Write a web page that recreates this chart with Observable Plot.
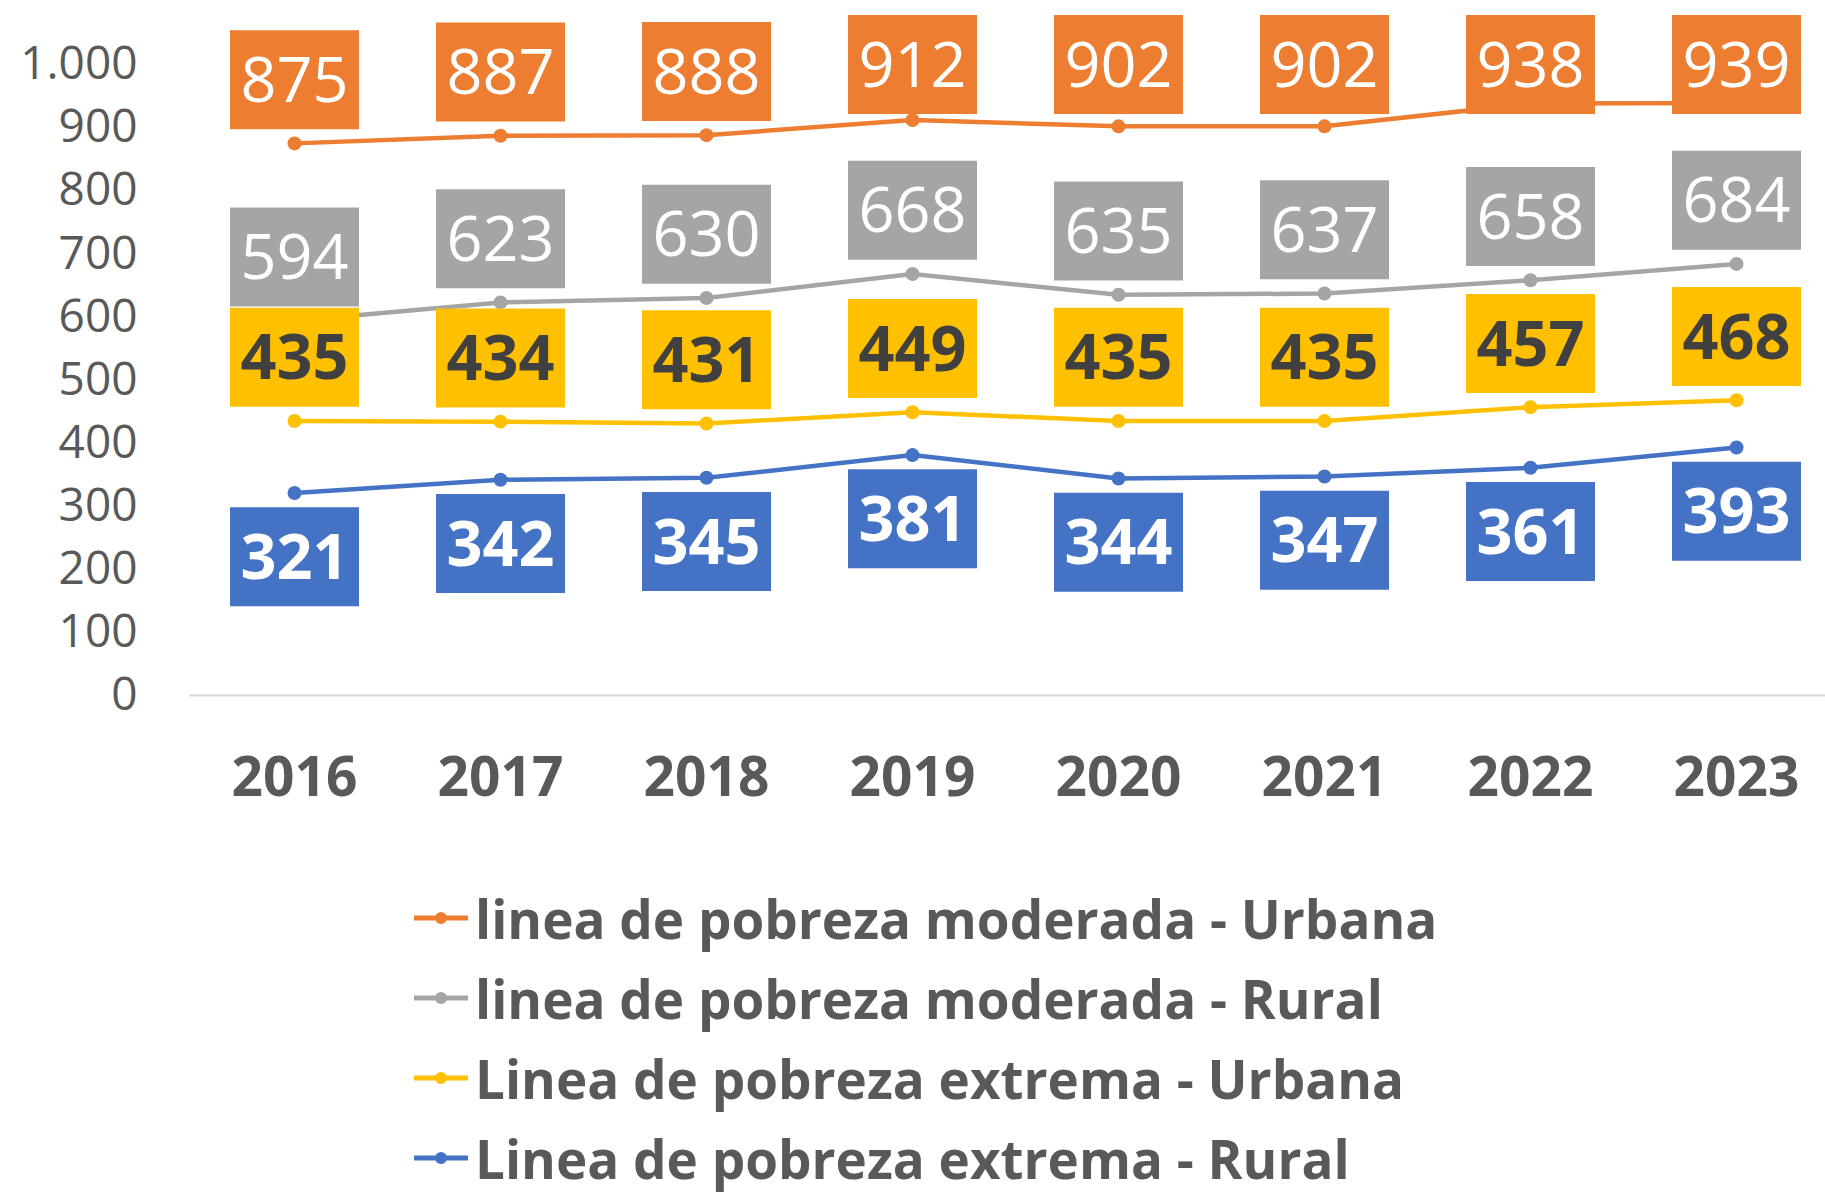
<!DOCTYPE html>
<html><head><meta charset="utf-8">
<script src="https://cdn.jsdelivr.net/npm/d3@7"></script>
<script src="https://cdn.jsdelivr.net/npm/@observablehq/plot@0.6"></script>
<style>
html,body{margin:0;padding:0;background:#fff;overflow:hidden;}
body{width:1825px;height:1197px;font-family:"Open Sans",sans-serif;}
#legend{padding-left:414px;}
.row{display:flex;align-items:center;height:80px;font-weight:700;font-size:53px;color:#595959;white-space:nowrap;}
.row svg{margin-right:7px;flex:none;}
</style></head><body><div id="chart"></div><div id="legend"></div>
<script>
const years = ["2016","2017","2018","2019","2020","2021","2022","2023"];
const seriesNames = [
  "linea de pobreza moderada - Urbana",
  "linea de pobreza moderada - Rural",
  "Linea de pobreza extrema - Urbana",
  "Linea de pobreza extrema - Rural"
];
const moderadaUrbana = [875, 887, 888, 912, 902, 902, 938, 939];
const moderadaRural  = [594, 623, 630, 668, 635, 637, 658, 684];
const extremaUrbana  = [435, 434, 431, 449, 435, 435, 457, 468];
const extremaRural   = [321, 342, 345, 381, 344, 347, 361, 393];
const colors = ["#ED7D31", "#A5A5A5", "#FFC000", "#4472C4"];
const yTicks = [0, 100, 200, 300, 400, 500, 600, 700, 800, 900, 1000];
const yTickLabels = ["0","100","200","300","400","500","600","700","800","900","1.000"];

const seriesValues = [moderadaUrbana, moderadaRural, extremaUrbana, extremaRural];
const labelBelow = [false, false, false, true];
const labelOffset = 101; // data units between point and its label box centre
const labelMax = 1000;

const rows = [];
seriesNames.forEach((s, i) => {
  seriesValues[i].forEach((v, j) => {
    rows.push({
      year: years[j], value: v, series: s, si: i,
      labelValue: labelBelow[i] ? v - labelOffset : Math.min(v + labelOffset, labelMax)
    });
  });
});

const box = {draw(ctx) { ctx.rect(-64.5, -49.5, 129, 99); }};

const textStyles = [
  {fill: "white", fontWeight: "normal"},
  {fill: "white", fontWeight: "normal"},
  {fill: "#404040", fontWeight: "bold"},
  {fill: "white", fontWeight: "bold"}
];

const chart = Plot.plot({
  width: 1825, height: 878,
  marginLeft: 189, marginRight: 0, marginTop: 64, marginBottom: 183,
  style: {fontFamily: "'Open Sans', sans-serif", background: "white", color: "#595959", overflow: "visible"},
  x: {type: "point", domain: years, range: [292, 1737], padding: 0, label: null},
  y: {domain: [0, 1000], label: null},
  color: {domain: seriesNames, range: colors},
  marks: [
    Plot.ruleY([0], {stroke: "#d9d9d9", strokeWidth: 2}),
    Plot.axisY({ticks: yTicks, tickFormat: d => yTickLabels[yTicks.indexOf(d)], tickSize: 0, tickPadding: 52, fontSize: 46, label: null}),
    Plot.axisX({tickSize: 0, tickPadding: 61, fontSize: 55, fontWeight: "bold", label: null}),
    Plot.line(rows, {x: "year", y: "value", z: "series", stroke: "series", strokeWidth: 4.5}),
    Plot.dot(rows, {x: "year", y: "value", fill: "series", r: 7}),
    Plot.dot(rows, {x: "year", y: "labelValue", fill: "series", symbol: box, r: 10}),
    ...textStyles.map((st, i) => Plot.text(rows.filter(d => d.si === i), {
      x: "year", y: "labelValue", text: d => String(d.value),
      fill: st.fill, fontWeight: st.fontWeight, fontSize: 63, dy: 2
    }))
  ]
});
document.getElementById("chart").appendChild(chart);

const legend = document.getElementById("legend");
seriesNames.forEach((s, i) => {
  const row = document.createElement("div");
  row.className = "row";
  row.innerHTML = `<svg width="54" height="20" viewBox="0 0 54 20"><line x1="0" x2="54" y1="10" y2="10" stroke="${colors[i]}" stroke-width="5"/><circle cx="27" cy="10" r="6" fill="${colors[i]}"/></svg><span>${s}</span>`;
  legend.appendChild(row);
});
</script>
</body></html>
